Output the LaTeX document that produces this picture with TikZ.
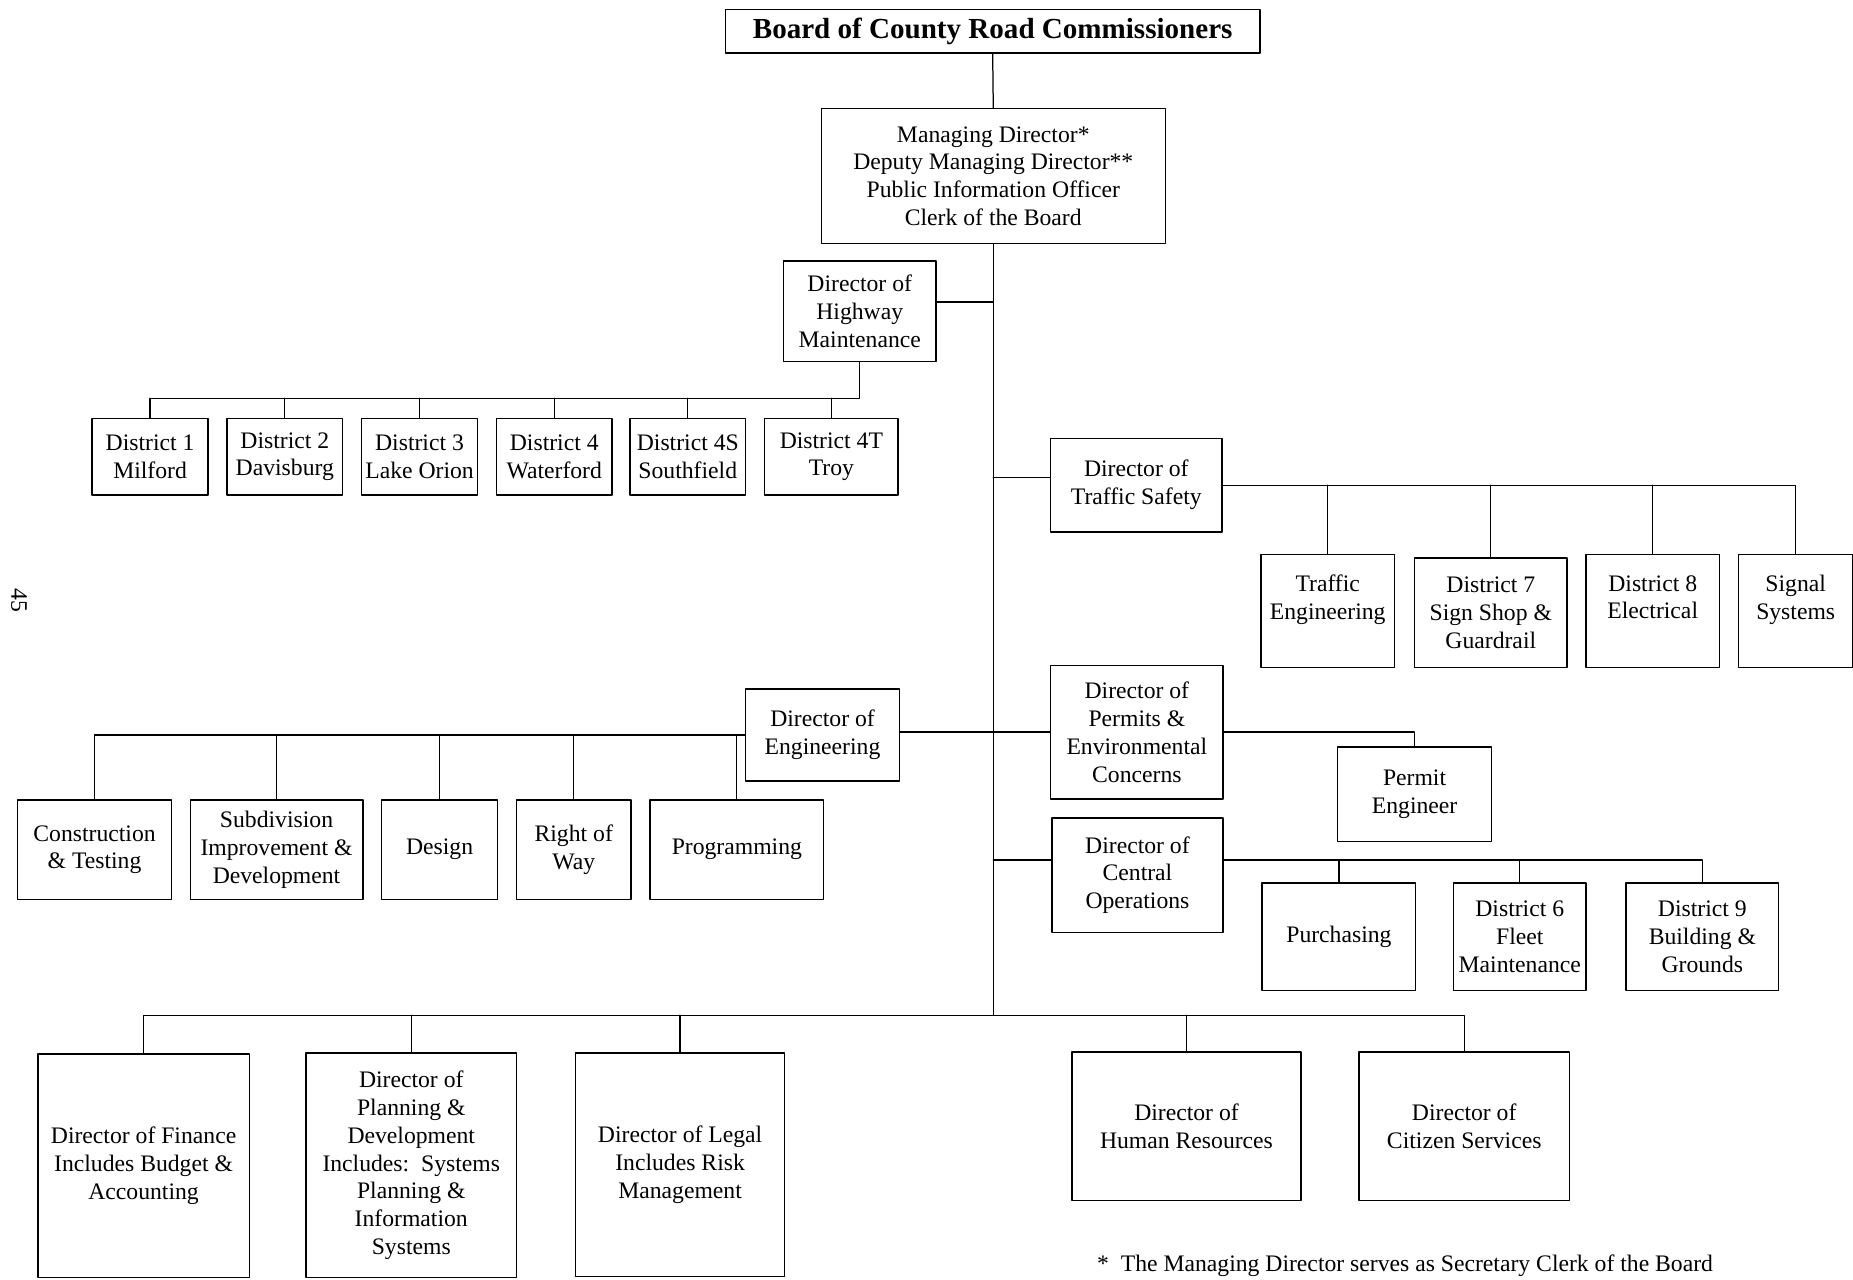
\documentclass[tikz,border=0pt]{standalone}
\usepackage{fontspec}
\setmainfont{Liberation Serif}

\tikzset{
  box/.style={draw, line width=0.7pt, align=center, inner sep=0pt},
  boxsize/.style 2 args={minimum width=#1*0.02cm, minimum height=#2*0.02cm},
}

\begin{document}
\begin{tikzpicture}[line cap=round,line join=round,x=0.02cm,y=-0.02cm,line width=0.6pt,
  every node/.style={font=\fontsize{11.4}{13.4}\selectfont}]
\useasboundingbox (0,0) rectangle (1568,1083);

% Board and managing director
\node [box, boxsize={452}{37}, font=\fontsize{14}{16}\selectfont\bfseries] (board) at (840,26.5) {Board of County Road Commissioners};
\node [box, boxsize={291}{114}] (md) at (840.5,149) {Managing Director*\\Deputy Managing Director**\\Public Information Officer\\Clerk of the Board};
\coordinate (trunk) at (840.5,859);

% Highway maintenance
\node [box, boxsize={129}{85}] (hwy) at (727.5,263.5) {Director of\\Highway\\Maintenance};
\node [box, boxsize={98}{65}] (d1) at (127,386.5) {District 1\\Milford};
\node [box, boxsize={98}{65}] (d2) at (241,386.5) {District 2\\Davisburg};
\node [box, boxsize={98}{65}] (d3) at (355,386.5) {District 3\\Lake Orion};
\node [box, boxsize={98}{65}] (d4) at (469,386.5) {District 4\\Waterford};
\node [box, boxsize={98}{65}] (d4s) at (582,386.5) {District 4S\\Southfield};
\node [box, boxsize={113}{65}] (d4t) at (703.5,386.5) {District 4T\\Troy};
\coordinate (hwybus) at (127,337);

% Traffic safety
\node [box, boxsize={145}{79}] (traffic) at (961.5,410.5) {Director of\\Traffic Safety};
\node [box, boxsize={113}{96}] (te) at (1123.5,517) {Traffic\\Engineering\\\mbox{}};
\node [box, boxsize={129}{93}] (d7) at (1261.5,518.5) {District 7\\Sign Shop \&\\Guardrail};
\node [box, boxsize={113}{96}] (d8) at (1398.5,517) {District 8\\Electrical\\\mbox{}};
\node [box, boxsize={97}{96}] (signal) at (1519.5,517) {Signal\\Systems\\\mbox{}};

% Engineering
\node [box, boxsize={130}{78}] (eng) at (696,622) {Director of\\Engineering};
\node [box, boxsize={130}{84}] (constr) at (80,719) {Construction\\\& Testing};
\node [box, boxsize={146}{84}] (subdiv) at (234,719) {Subdivision\\Improvement \&\\Development};
\node [box, boxsize={98}{84}] (design) at (372,719) {Design};
\node [box, boxsize={97}{84}] (row) at (485.5,719) {Right of\\Way};
\node [box, boxsize={147}{84}] (prog) at (623.5,719) {Programming};

% Permits and central operations
\node [box, boxsize={146}{113}] (permits) at (962,619.5) {Director of\\Permits \&\\Environmental\\Concerns};
\node [box, boxsize={130}{80}] (permeng) at (1197,672) {Permit\\Engineer};
\node [box, boxsize={145}{97}] (central) at (962.5,740.5) {Director of\\Central\\Operations};
\node [box, boxsize={130}{91}] (purch) at (1133,792.5) {Purchasing};
\node [box, boxsize={112}{91}] (d6) at (1286,792.5) {District 6\\Fleet\\Maintenance};
\node [box, boxsize={129}{91}] (d9) at (1440.5,792.5) {District 9\\Building \&\\Grounds};

% Bottom row
\node [box, boxsize={179}{189}] (fin) at (121.5,986.5) {Director of Finance\\Includes Budget \&\\Accounting};
\node [box, boxsize={178}{190}] (plan) at (348,986) {Director of\\Planning \&\\Development\\Includes:\ \ Systems\\Planning \&\\Information\\Systems};
\node [box, boxsize={177}{189}] (legal) at (575.5,985.5) {Director of Legal\\Includes Risk\\Management};
\node [box, boxsize={194}{126}] (hr) at (1004,953) {Director of\\Human Resources};
\node [box, boxsize={178}{126}] (citizen) at (1239,953) {Director of\\Citizen Services};

% Notes
\node [anchor=west] (note) at (922,1071) {*\ \ The Managing Director serves as Secretary Clerk of the Board};
\node [rotate=-90, anchor=south] (pagenum) at (3,508) {45};

% Lines
\draw (board.south) -- (md.north);
\draw (md.south) -- (trunk);
\draw (hwy.7) -- (hwy.7 -| trunk);
\draw (hwy.south) |- (hwybus);
\foreach \d in {d1,d2,d3,d4,d4s,d4t}
\draw (\d.north) -- (\d.north |- hwybus);
\draw (traffic.175) -- (traffic.175 -| trunk);
\draw (traffic.east) -| (signal.north);
\foreach \d in {te,d7,d8}
\draw (\d.north) -- (\d.north |- traffic.east);
\draw (eng.east |- permits.west) -- (permits.west);
\draw (eng.west) -| (constr.north);
\foreach \d in {subdiv,design,row,prog}
\draw (\d.north) -- (\d.north |- eng.west);
\draw (permits.east) -| (permeng.north);
\draw (central.170) -- (central.170 -| trunk);
\draw (central.10) -| (d9.north);
\foreach \d in {purch,d6}
\draw (\d.north) -- (\d.north |- central.10);
\draw (fin.north) |- (trunk) -| (citizen.north);
\foreach \d in {plan,legal,hr}
\draw (\d.north) -- (\d.north |- trunk);
\end{tikzpicture}
\end{document}
